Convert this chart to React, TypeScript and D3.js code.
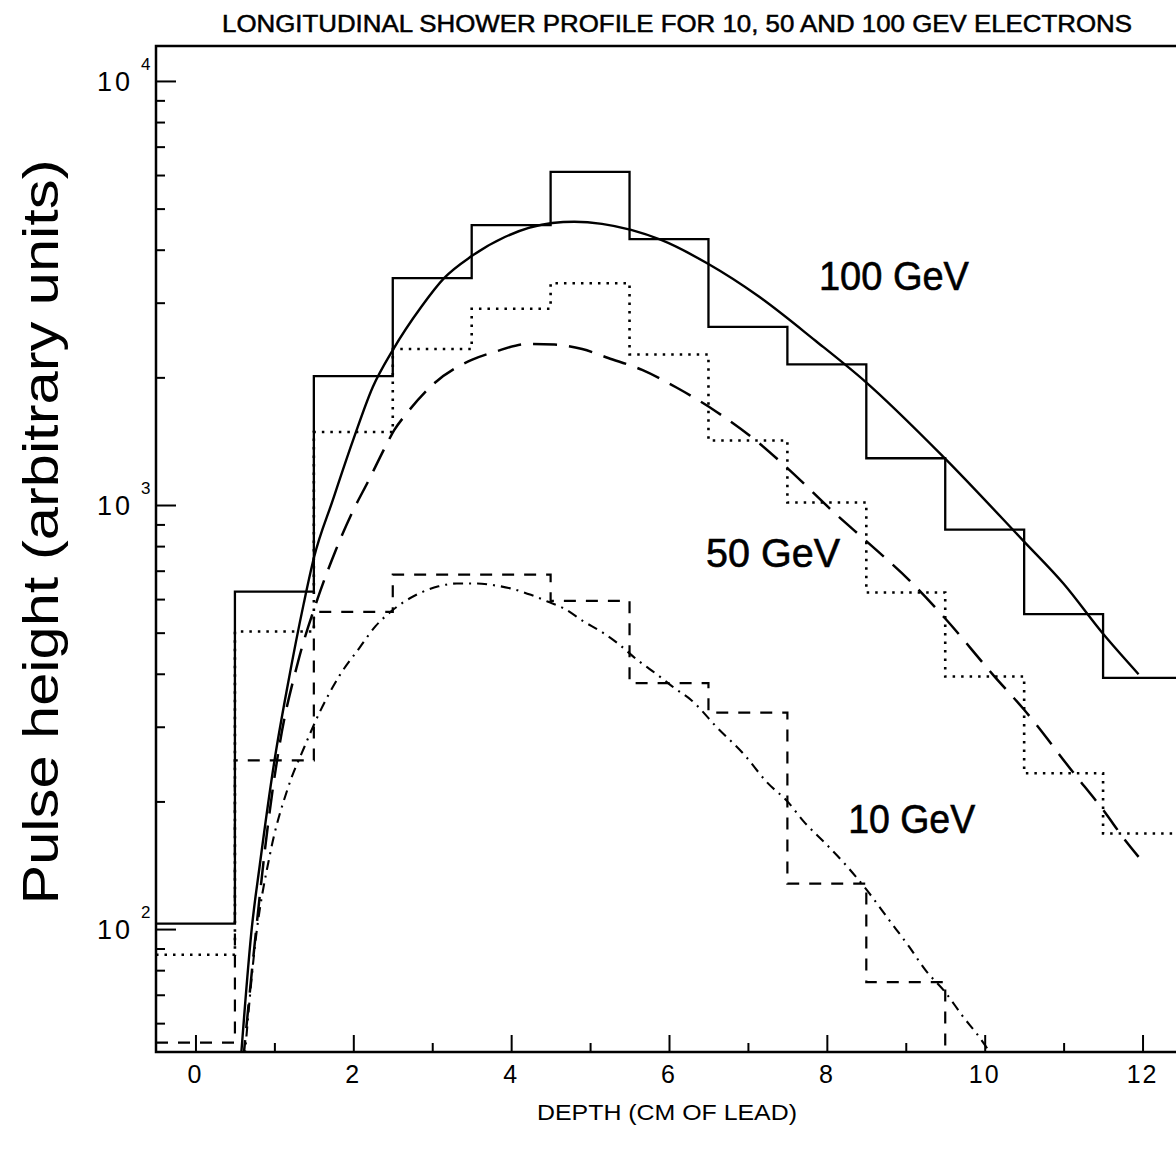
import React, { useRef, useEffect } from "react";
import * as d3 from "d3";

// histogram bins are 1 cm wide, centred on integer depths
const binCenters = [0, 1, 2, 3, 4, 5, 6, 7, 8, 9, 10, 11, 12];
const hist100 = [103, 625, 2014, 3428, 4571, 6107, 4236, 2632, 2147, 1289, 875, 553, 391];
const hist50 = [87, 503, 1486, 2333, 2904, 3335, 2265, 1420, 1014, 622, 394, 233, 168];
const hist10 = [54, 250, 560, 685, 685, 594, 380, 324, 128, 75, null, null, null];

// fitted curves as [depth, pulse height]
const fit100: [number, number][] = [
  [0.57, 48], [0.715, 101], [0.816, 142], [1.006, 253], [1.171, 378], [1.373, 587],
  [1.5, 750], [1.741, 1028], [1.994, 1416], [2.247, 1898], [2.5, 2320], [2.86, 2931],
  [3.15, 3428], [3.5, 3864], [3.92, 4285], [4.52, 4624], [4.8, 4655], [5.15, 4603],
  [5.52, 4453], [5.9, 4217], [6.5, 3700], [7.13, 3110], [7.86, 2437], [8.48, 1960],
  [9.48, 1297], [10.49, 823], [11.0, 652], [11.5, 497], [11.95, 399],
];
const fit50: [number, number][] = [
  [0.6, 48], [0.76, 96], [0.92, 177], [1.07, 275], [1.3, 427], [1.55, 603],
  [1.77, 776], [1.98, 955], [2.2, 1148], [2.41, 1377], [2.52, 1503], [2.68, 1648],
  [3.03, 1940], [3.5, 2198], [3.79, 2296], [4.21, 2398], [4.55, 2390], [4.9, 2333],
  [5.23, 2222], [5.66, 2082], [6.1, 1890], [6.6, 1660], [7.1, 1420], [7.5, 1222],
  [8.1, 957], [8.5, 822], [9.09, 652], [9.5, 540], [10.12, 395], [10.5, 329],
  [11.13, 233], [11.5, 191], [11.78, 162], [11.95, 148],
];
const fit10: [number, number][] = [
  [0.62, 49], [0.75, 90], [0.944, 150], [1.171, 215], [1.377, 268], [1.582, 327],
  [1.829, 397], [2.076, 460], [2.282, 518], [2.488, 563], [2.82, 617], [3.08, 643],
  [3.31, 653], [3.57, 653], [3.78, 647], [3.99, 636], [4.25, 614], [4.46, 592],
  [4.67, 570], [4.92, 531], [5.14, 503], [5.35, 472], [5.6, 431], [5.86, 397],
  [6.07, 370], [6.28, 347], [6.6, 300], [6.96, 257], [7.24, 222], [7.5, 200],
  [7.7, 180], [8.0, 158], [8.22, 143], [8.5, 124], [8.79, 105], [9.04, 91],
  [9.25, 80], [9.5, 71], [9.73, 62], [9.92, 56], [10.04, 52], [10.12, 49],
];

const xMajorTicks = [0, 2, 4, 6, 8, 10, 12];
const xMinorTicks = [1, 3, 5, 7, 9, 11];
const yDecades = [2, 3, 4];
const curveLabels = [
  { text: "100 GeV", depth: 7.9, value: 3214, len: 150 },
  { text: "50 GeV", depth: 6.47, value: 714, len: 134 },
  { text: "10 GeV", depth: 8.27, value: 168.5, len: 127 },
];

export default function App() {
  const ref = useRef<SVGSVGElement>(null);

  useEffect(() => {
    const width = 1176;
    const height = 1155;
    const svg = d3.select(ref.current);
    svg.selectAll("*").remove();
    svg.attr("width", width).attr("height", height);

    const x = d3.scaleLinear().domain([-0.5, 12.5]).range([156, 1182]);
    const y = d3.scaleLog().domain([51.3, 12090]).range([1052, 46]);
    const [x0, x1] = x.range();
    const [yb, yt] = y.range();

    svg.append("rect").attr("width", width).attr("height", height).attr("fill", "#fff");

    svg
      .append("clipPath")
      .attr("id", "plot")
      .append("rect")
      .attr("x", x0)
      .attr("y", yt)
      .attr("width", x1 - x0)
      .attr("height", yb - yt);

    const plot = svg.append("g").attr("clip-path", "url(#plot)");

    // step histograms: one point per left bin edge, closed by the last edge
    const stepLine = d3
      .line<[number, number]>()
      .x((d) => x(d[0]))
      .y((d) => y(d[1]))
      .curve(d3.curveStepAfter);

    const histPoints = (vals: (number | null)[]) => {
      const pts: [number, number][] = [];
      vals.forEach((v, i) => {
        if (v != null) pts.push([binCenters[i] - 0.5, v]);
      });
      const last = pts.length;
      if (last < vals.length) pts.push([binCenters[last] - 0.5, y.domain()[0]]);
      else pts.push([binCenters[last - 1] + 0.5, vals[last - 1] as number]);
      return pts;
    };

    const fitLine = d3
      .line<[number, number]>()
      .x((d) => x(d[0]))
      .y((d) => y(d[1]))
      .curve(d3.curveMonotoneX);

    const series = [
      { d: stepLine(histPoints(hist100)), dash: null, w: 2.3 },
      { d: stepLine(histPoints(hist50)), dash: "2.5,6", w: 2.6 },
      { d: stepLine(histPoints(hist10)), dash: "12,10", w: 2.2 },
      { d: fitLine(fit100), dash: null, w: 2.4 },
      { d: fitLine(fit50), dash: "24,12", w: 2.5 },
      { d: fitLine(fit10), dash: "10,6,2,6", w: 2.1 },
    ];

    series.forEach((s) => {
      plot
        .append("path")
        .attr("d", s.d)
        .attr("fill", "none")
        .attr("stroke", "#000")
        .attr("stroke-width", s.w)
        .attr("stroke-dasharray", s.dash);
    });

    // frame
    svg
      .append("rect")
      .attr("x", x0)
      .attr("y", yt)
      .attr("width", x1 - x0)
      .attr("height", yb - yt)
      .attr("fill", "none")
      .attr("stroke", "#000")
      .attr("stroke-width", 2.5);

    // Y ticks (inward)
    const yMinor: number[] = [];
    d3.range(1, 5).forEach((e) => {
      for (let m = 2; m <= 9; m++) {
        const v = m * Math.pow(10, e);
        if (v >= y.domain()[0] && v <= y.domain()[1]) yMinor.push(v);
      }
    });
    const yMajor = yDecades.map((e) => Math.pow(10, e));

    const yAxisMajor = svg
      .append("g")
      .attr("transform", `translate(${x0},0)`)
      .call(d3.axisLeft(y).tickValues(yMajor).tickSize(-20).tickFormat(() => ""));
    const yAxisMinor = svg
      .append("g")
      .attr("transform", `translate(${x0},0)`)
      .call(d3.axisLeft(y).tickValues(yMinor).tickSize(-9).tickFormat(() => ""));

    const xAxisMajor = svg
      .append("g")
      .attr("transform", `translate(0,${yb})`)
      .call(d3.axisBottom(x).tickValues(xMajorTicks).tickSize(-17).tickFormat(() => ""));
    const xAxisMinor = svg
      .append("g")
      .attr("transform", `translate(0,${yb})`)
      .call(d3.axisBottom(x).tickValues(xMinorTicks).tickSize(-9).tickFormat(() => ""));

    [yAxisMajor, yAxisMinor, xAxisMajor, xAxisMinor].forEach((a) => {
      a.select(".domain").remove();
      a.selectAll("line").attr("stroke", "#000").attr("stroke-width", 2);
    });

    const font = "'Liberation Sans', Arial, sans-serif";

    // y tick labels: 10 with superscript exponent
    yDecades.forEach((e) => {
      const py = y(Math.pow(10, e));
      svg
        .append("text")
        .attr("x", 133)
        .attr("y", py + 10)
        .attr("text-anchor", "end")
        .attr("font-family", font)
        .attr("font-size", 27)
        .attr("letter-spacing", 3)
        .text("10");
      svg
        .append("text")
        .attr("x", 141)
        .attr("y", py - 11)
        .attr("font-family", font)
        .attr("font-size", 17)
        .text(String(e));
    });

    // x tick labels
    xMajorTicks.forEach((t) => {
      svg
        .append("text")
        .attr("x", x(t))
        .attr("y", 1083)
        .attr("text-anchor", "middle")
        .attr("font-family", font)
        .attr("font-size", 25)
        .attr("letter-spacing", 2)
        .text(String(t));
    });

    // titles
    svg
      .append("text")
      .attr("x", 677)
      .attr("y", 32)
      .attr("text-anchor", "middle")
      .attr("font-family", font)
      .attr("font-size", 23.5)
      .attr("stroke", "#000")
      .attr("stroke-width", 0.5)
      .attr("textLength", 910)
      .attr("lengthAdjust", "spacingAndGlyphs")
      .text("LONGITUDINAL SHOWER PROFILE FOR 10, 50 AND 100 GEV ELECTRONS");

    svg
      .append("text")
      .attr("x", 667)
      .attr("y", 1120)
      .attr("text-anchor", "middle")
      .attr("font-family", font)
      .attr("font-size", 22)
      .attr("textLength", 260)
      .attr("lengthAdjust", "spacingAndGlyphs")
      .text("DEPTH (CM OF LEAD)");

    svg
      .append("text")
      .attr("transform", "translate(58,532) rotate(-90)")
      .attr("text-anchor", "middle")
      .attr("font-family", font)
      .attr("font-size", 50)
      .attr("textLength", 745)
      .attr("lengthAdjust", "spacingAndGlyphs")
      .text("Pulse height (arbitrary units)");

    // curve labels
    curveLabels.forEach((l) => {
      svg
        .append("text")
        .attr("x", x(l.depth))
        .attr("y", y(l.value))
        .attr("font-family", font)
        .attr("font-size", 40)
        .attr("stroke", "#000")
        .attr("stroke-width", 0.6)
        .attr("textLength", l.len)
        .attr("lengthAdjust", "spacingAndGlyphs")
        .text(l.text);
    });
  }, []);

  return (
    <svg
      ref={ref}
      style={{ position: "absolute", left: 0, top: 0, display: "block" }}
    ></svg>
  );
}
